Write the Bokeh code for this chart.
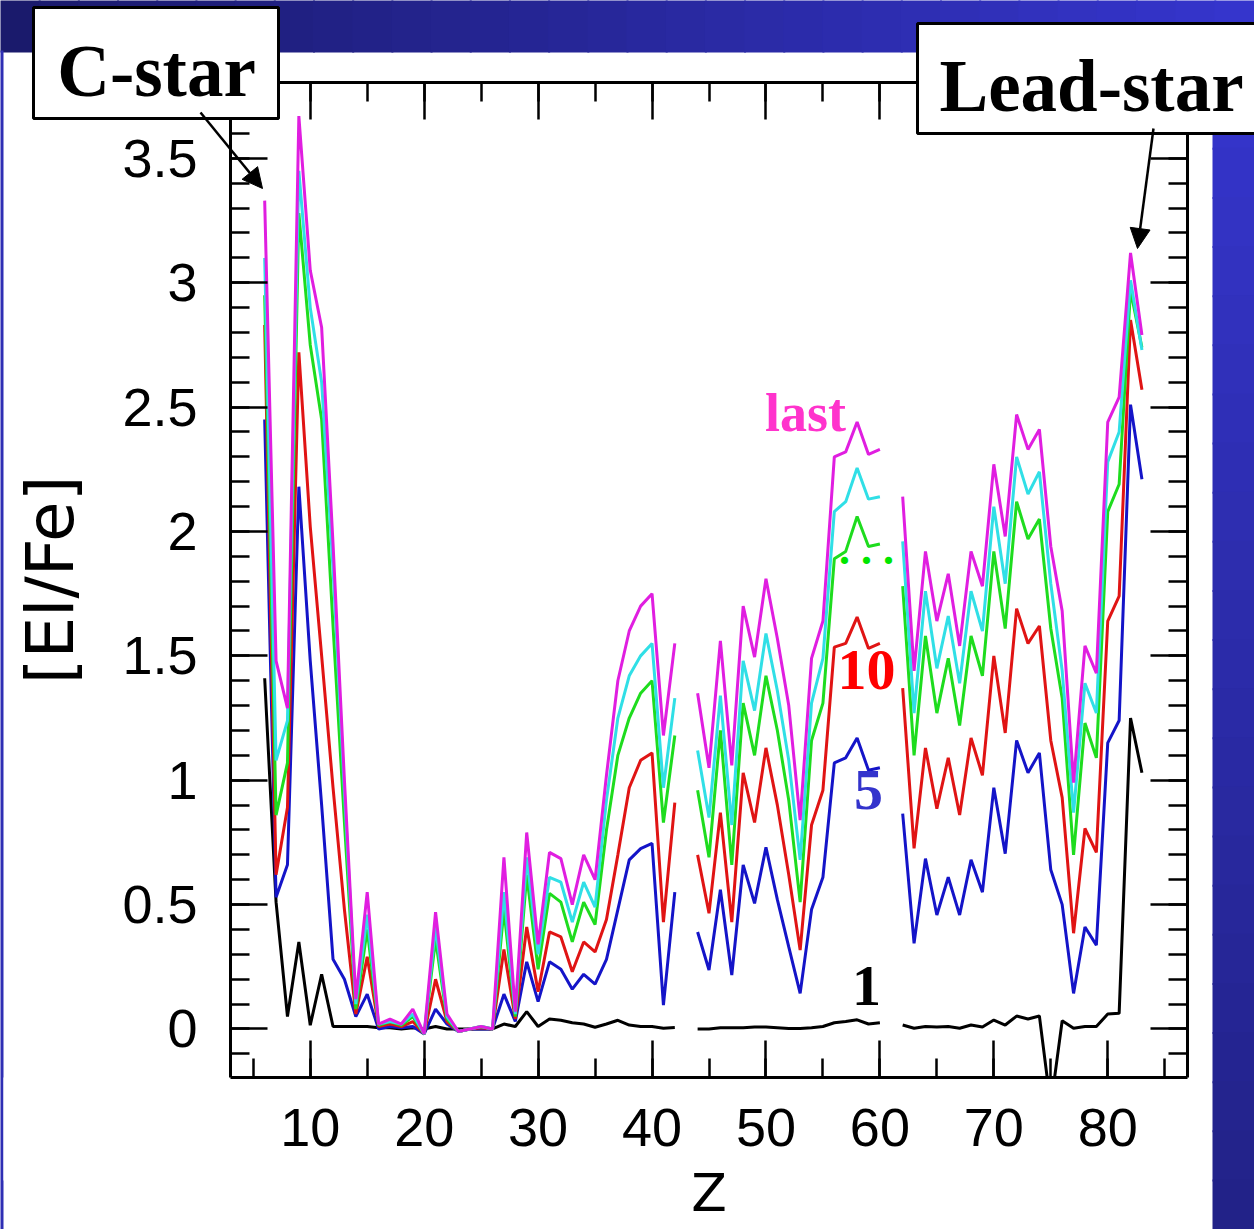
from bokeh.plotting import figure
from bokeh.models import (LinearAxis, FixedTicker, CustomJSTickFormatter, BoxAnnotation,
                          Label, Arrow, NormalHead)
from bokeh.embed import file_html
from bokeh.resources import INLINE

nan = float("nan")

# ---------------- data ----------------
Z = list(range(6, 84))

# Z = 6..42 | 43 gap | 44..60 | 61 gap | 62..83
mag_a = [3.33, 1.48, 1.29, 3.67, 3.05, 2.82, 1.95, 1.00, 0.12, 0.55,
         0.02, 0.04, 0.02, 0.08, -0.02, 0.47, 0.06, -0.01, 0.0, 0.01, 0.0,
         0.69, 0.07, 0.79, 0.34, 0.71, 0.685, 0.50, 0.70, 0.60, 1.02, 1.40, 1.60, 1.70, 1.75, 1.18, 1.55]
mag_b = [1.35, 1.05, 1.56, 1.06, 1.70, 1.495, 1.81, 1.57, 1.30, 0.84, 1.49, 1.64, 2.30, 2.32, 2.44, 2.31, 2.33]
mag_c = [2.14, 1.44, 1.92, 1.64, 1.83, 1.54, 1.92, 1.78, 2.27, 1.98, 2.47, 2.33, 2.41, 1.94, 1.68, 0.99,
         1.54, 1.43, 2.44, 2.54, 3.12, 2.79]

cya_a = [3.10, 1.08, 1.24, 3.45, 2.90, 2.60, 1.85, 0.95, 0.10, 0.46,
         0.02, 0.03, 0.02, 0.06, -0.02, 0.41, 0.05, -0.01, 0.0, 0.01, 0.0,
         0.55, 0.06, 0.69, 0.30, 0.61, 0.59, 0.43, 0.59, 0.49, 0.92, 1.25, 1.42, 1.50, 1.55, 0.97, 1.33]
cya_b = [1.12, 0.85, 1.34, 0.82, 1.48, 1.28, 1.59, 1.36, 1.08, 0.68, 1.31, 1.49, 2.08, 2.12, 2.255, 2.13, 2.14]
cya_c = [1.96, 1.27, 1.76, 1.45, 1.66, 1.39, 1.76, 1.60, 2.10, 1.79, 2.30, 2.15, 2.24, 1.79, 1.44, 0.87,
         1.39, 1.27, 2.28, 2.40, 3.01, 2.73]

grn_a = [2.95, 0.86, 1.07, 3.28, 2.75, 2.45, 1.62, 0.83, 0.08, 0.40,
         0.015, 0.03, 0.015, 0.05, -0.02, 0.36, 0.04, -0.01, 0.0, 0.01, 0.0,
         0.48, 0.05, 0.62, 0.24, 0.545, 0.51, 0.35, 0.51, 0.42, 0.80, 1.10, 1.25, 1.35, 1.40, 0.83, 1.18]
grn_b = [0.96, 0.69, 1.20, 0.66, 1.31, 1.10, 1.42, 1.20, 0.92, 0.51, 1.16, 1.31, 1.89, 1.92, 2.06, 1.94, 1.95]
grn_c = [1.78, 1.10, 1.58, 1.27, 1.49, 1.22, 1.58, 1.42, 1.92, 1.61, 2.12, 1.97, 2.05, 1.61, 1.33, 0.70,
         1.23, 1.09, 2.08, 2.19, 2.97, 2.74]

red_a = [2.83, 0.62, 0.89, 2.72, 2.02, 1.50, 0.97, 0.48, 0.06, 0.29,
         0.01, 0.02, 0.01, 0.03, -0.02, 0.20, 0.03, -0.01, 0.0, 0.005, 0.0,
         0.32, 0.04, 0.41, 0.15, 0.39, 0.37, 0.23, 0.35, 0.31, 0.44, 0.70, 0.97, 1.08, 1.11, 0.43, 0.91]
red_b = [0.70, 0.465, 0.87, 0.43, 1.03, 0.83, 1.13, 0.90, 0.62, 0.317, 0.82, 0.96, 1.535, 1.55, 1.656, 1.53, 1.55]
red_c = [1.37, 0.726, 1.13, 0.886, 1.09, 0.86, 1.17, 1.02, 1.50, 1.19, 1.69, 1.55, 1.62, 1.16, 0.93, 0.385,
         0.806, 0.71, 1.64, 1.74, 2.85, 2.57]

blu_a = [2.45, 0.53, 0.66, 2.18, 1.48, 0.90, 0.28, 0.20, 0.05, 0.14,
         0.0, 0.01, 0.005, 0.01, -0.02, 0.08, 0.02, -0.01, 0.0, 0.0, 0.0,
         0.14, 0.03, 0.27, 0.11, 0.27, 0.24, 0.16, 0.22, 0.18, 0.28, 0.48, 0.68, 0.725, 0.746, 0.096, 0.55]
blu_b = [0.39, 0.237, 0.56, 0.217, 0.66, 0.505, 0.73, 0.52, 0.33, 0.143, 0.48, 0.61, 1.07, 1.09, 1.17, 1.04, 1.05]
blu_c = [0.866, 0.344, 0.685, 0.458, 0.61, 0.458, 0.68, 0.55, 0.97, 0.705, 1.16, 1.03, 1.11, 0.64, 0.50, 0.143,
         0.41, 0.337, 1.15, 1.24, 2.51, 2.21]

blk_a = [1.41, 0.51, 0.05, 0.35, 0.015, 0.22, 0.01, 0.01, 0.01, 0.01,
         0.005, 0.005, 0.0, 0.005, 0.0, 0.01, 0.0, 0.0, 0.0, 0.0, 0.0,
         0.02, 0.01, 0.07, 0.01, 0.04, 0.035, 0.025, 0.02, 0.007, 0.02, 0.035, 0.016, 0.01, 0.01, 0.003, 0.006]
blk_b = [0.0, 0.0, 0.005, 0.005, 0.005, 0.008, 0.008, 0.005, 0.002, 0.002, 0.005, 0.01, 0.025, 0.03, 0.037, 0.02, 0.025]
blk_c = [0.016, 0.003, 0.01, 0.008, 0.01, 0.003, 0.016, 0.008, 0.036, 0.016, 0.052, 0.04, 0.052, -0.31, 0.033, 0.003,
         0.01, 0.01, 0.06, 0.063, 1.25, 1.03]


def join(a, b, c):
    return a + [nan] + b + [nan] + c


series = [
    ("1", join(blk_a, blk_b, blk_c), "#000000"),
    ("5", join(blu_a, blu_b, blu_c), "#1414c8"),
    ("10", join(red_a, red_b, red_c), "#e01414"),
    ("...", join(grn_a, grn_b, grn_c), "#1edc1e"),
    ("cyan", join(cya_a, cya_b, cya_c), "#30dfe6"),
    ("last", join(mag_a, mag_b, mag_c), "#e01ee0"),
]

x_major = [10, 20, 30, 40, 50, 60, 70, 80]
x_minor = list(range(5, 90, 5))
y_major = [0, 0.5, 1, 1.5, 2, 2.5, 3, 3.5]
y_minor = [round(-0.1 + 0.1 * i, 1) for i in range(40)]

# ---------------- geometry ----------------
W, H = 1254, 1229
FL, FR, FT, FB = 230, 1187, 82, 1077          # plot box on the page (px)
X0, X1, Y0, Y1 = 3.0, 87.0, -0.195, 3.805     # data limits of the plot box
KX = (X1 - X0) / (FR - FL)
KY = (Y1 - Y0) / (FB - FT)
XL, XR = X0 - FL * KX, X1 + (W - FR) * KX
YB, YT = Y0 - (H - FB) * KY, Y1 + FT * KY


def dx(px):
    return XL + px * KX


def dy(py):
    return YT - py * KY


p = figure(width=W, height=H, x_range=(XL, XR), y_range=(YB, YT), title=None,
           output_backend="svg", toolbar_location=None,
           x_axis_location=None, y_axis_location=None,
           min_border=0, min_border_left=0, min_border_right=0, min_border_top=0, min_border_bottom=0)
p.background_fill_color = "white"
p.border_fill_color = "white"
p.outline_line_color = None
p.xgrid.visible = False
p.ygrid.visible = False

TICKFONT = "Liberation Sans"
xt = FixedTicker(ticks=x_major, minor_ticks=x_minor)
yt = FixedTicker(ticks=y_major, minor_ticks=y_minor)
blank = CustomJSTickFormatter(code="return '';")


def style_axis(ax):
    ax.axis_line_width = 3
    ax.major_tick_line_width = 2.5
    ax.minor_tick_line_width = 2.5
    ax.major_tick_in = 37
    ax.major_tick_out = 0
    ax.minor_tick_in = 19
    ax.minor_tick_out = 0
    ax.major_label_text_font = TICKFONT
    ax.major_label_text_font_size = "54px"
    ax.major_label_text_color = "black"
    ax.axis_label_text_font = "DejaVu Sans"
    ax.axis_label_text_font_style = "normal"
    ax.axis_label_text_font_size = "66px"
    ax.axis_label_text_color = "black"


xa = LinearAxis(ticker=xt, fixed_location=Y0, bounds=(X0, X1), axis_label="Z")
style_axis(xa)
xa.axis_label_text_font_size = "52px"
xa.major_label_standoff = 31
xa.axis_label_standoff = 14

ya = LinearAxis(ticker=yt, fixed_location=X0, bounds=(Y0, Y1), axis_label="[El/Fe]",
                formatter=CustomJSTickFormatter(
                    code="return Number.isInteger(tick) ? tick.toFixed(0) : tick.toFixed(1);"))
style_axis(ya)
ya.major_label_standoff = 33
ya.axis_label_standoff = 30

ta = LinearAxis(ticker=xt, fixed_location=Y1, bounds=(X0, X1), formatter=blank)
style_axis(ta)
ra = LinearAxis(ticker=yt, fixed_location=X1, bounds=(Y0, Y1), formatter=blank)
style_axis(ra)

# ---------------- slide background ----------------
def mix(c0, c1, t):
    return "#%02x%02x%02x" % tuple(int(round(a + (b - a) * t)) for a, b in zip(c0, c1))


nstrip = 32
for i in range(nstrip):
    x_a = i * W / nstrip - 1
    x_b = (i + 1) * W / nstrip + 1
    col = mix((0x1a, 0x1a, 0x6c), (0x35, 0x35, 0xcc), i / (nstrip - 1))
    p.add_layout(BoxAnnotation(left=dx(x_a), right=dx(x_b), bottom=dy(52), top=dy(-20),
                               fill_color=col, fill_alpha=1, line_alpha=0, level="underlay"))
nv = 24
for i in range(nv):
    y_a = 50 + i * (H - 50) / nv - 1
    y_b = 50 + (i + 1) * (H - 50) / nv + 1
    col = mix((0x35, 0x35, 0xcc), (0x22, 0x22, 0x88), i / (nv - 1))
    p.add_layout(BoxAnnotation(left=dx(1212), right=dx(W + 20), bottom=dy(y_b), top=dy(y_a),
                               fill_color=col, fill_alpha=1, line_alpha=0, level="underlay"))
p.add_layout(BoxAnnotation(left=dx(-10), right=dx(3), bottom=dy(H + 10), top=dy(50),
                           fill_color="#2e2eb4", fill_alpha=1, line_alpha=0, level="underlay"))

# ---------------- data lines ----------------
for name, vals, col in series:
    p.line(Z, vals, line_color=col, line_width=3)

# white mask below the plot box (clips the line that dips below the axis)
p.add_layout(BoxAnnotation(left=dx(3), right=dx(1211), bottom=dy(1180), top=dy(FB),
                           fill_color="white", fill_alpha=1, line_alpha=0, level="glyph"))

for ax, side in ((xa, "below"), (ya, "left"), (ta, "above"), (ra, "right")):
    p.add_layout(ax, side)

# ---------------- annotation boxes ----------------
p.add_layout(BoxAnnotation(left=dx(33), right=dx(278), bottom=dy(118), top=dy(7),
                           fill_color="white", fill_alpha=1, line_color="black", line_alpha=1,
                           line_width=3))
p.add_layout(BoxAnnotation(left=dx(917), right=dx(1262), bottom=dy(133), top=dy(23),
                           fill_color="white", fill_alpha=1, line_color="black", line_alpha=1,
                           line_width=3))

SERIF = "Liberation Serif"
SH = 19  # baseline correction
p.add_layout(Label(x=dx(156), y=dy(90 - SH), text="C-star", text_align="center", text_baseline="alphabetic",
                   text_font=SERIF, text_font_style="bold", text_font_size="73px", text_color="black"))
p.add_layout(Label(x=dx(1091), y=dy(105 - SH), text="Lead-star", text_align="center", text_baseline="alphabetic",
                   text_font=SERIF, text_font_style="bold", text_font_size="73px", text_color="black"))

p.add_layout(Arrow(end=NormalHead(size=20, fill_color="black", line_color="black"),
                   x_start=dx(200), y_start=dy(112), x_end=dx(262), y_end=dy(188),
                   line_color="black", line_width=2.5))
p.add_layout(Arrow(end=NormalHead(size=20, fill_color="black", line_color="black"),
                   x_start=dx(1153), y_start=dy(128), x_end=dx(1137), y_end=dy(248),
                   line_color="black", line_width=2.5))

# series labels
lab = [("last", 805, 431, "#ff33cc", "54px"),
       (". . .", 866, 568, "#00e600", "44px"),
       ("10", 866, 688, "#ff0000", "58px"),
       ("5", 868, 808, "#3333cc", "58px"),
       ("1", 866, 1004, "#000000", "58px")]
for t, px, py, col, fs in lab:
    p.add_layout(Label(x=dx(px), y=dy(py - SH), text=t, text_align="center", text_baseline="alphabetic",
                       text_font=SERIF, text_font_style="bold", text_font_size=fs, text_color=col))

open("out.html", "w").write(file_html(p, INLINE))
